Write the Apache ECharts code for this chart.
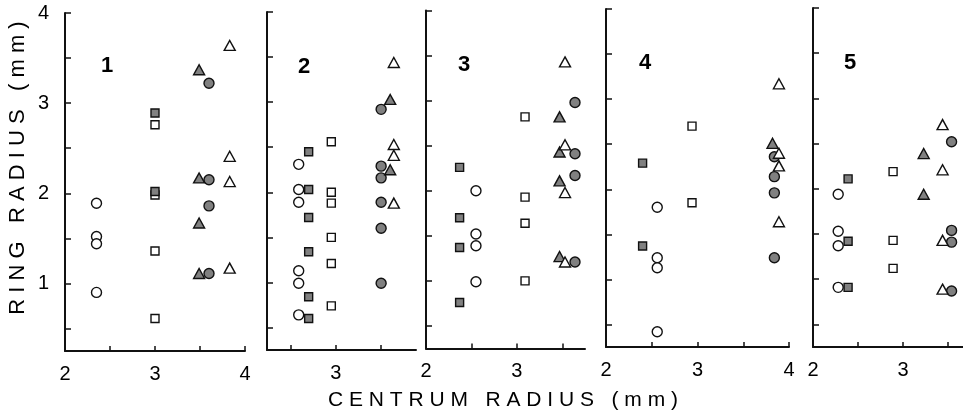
<!DOCTYPE html>
<html>
<head>
<meta charset="utf-8">
<script src="https://cdn.jsdelivr.net/npm/echarts@6/dist/echarts.min.js"></script>
<style>html,body{margin:0;padding:0;background:#fff}#c{width:963px;height:414px}</style>
</head>
<body>
<div id="c"></div>
<script>
// [panel, centrum radius, ring radius]
const openCircle = [
  [1,2.35,1.89],[1,2.35,1.52],[1,2.35,1.44],[1,2.35,0.90],
  [2,2.59,2.31],[2,2.59,2.03],[2,2.59,1.89],[2,2.59,1.13],[2,2.59,0.99],[2,2.59,0.64],
  [3,2.55,2.00],[3,2.55,1.52],[3,2.55,1.39],[3,2.55,0.99],
  [4,2.56,1.80],[4,2.56,1.24],[4,2.56,1.13],[4,2.56,0.42],
  [5,2.28,1.94],[5,2.28,1.53],[5,2.28,1.37],[5,2.28,0.91]
];
const openSquare = [
  [1,3.00,2.76],[1,3.00,1.98],[1,3.00,1.36],[1,3.00,0.61],
  [2,2.95,2.56],[2,2.95,2.00],[2,2.95,1.88],[2,2.95,1.50],[2,2.95,1.21],[2,2.95,0.74],
  [3,3.09,2.82],[3,3.09,1.93],[3,3.09,1.64],[3,3.09,1.00],
  [4,2.94,2.70],[4,2.94,1.85],
  [5,2.89,2.19],[5,2.89,1.43],[5,2.89,1.12]
];
const graySquare = [
  [1,3.00,2.89],[1,3.00,2.02],
  [2,2.70,2.45],[2,2.70,2.03],[2,2.70,1.72],[2,2.70,1.34],[2,2.70,0.84],[2,2.70,0.60],
  [3,2.37,2.26],[3,2.37,1.70],[3,2.37,1.37],[3,2.37,0.76],
  [4,2.40,2.29],[4,2.40,1.37],
  [5,2.39,2.11],[5,2.39,1.42],[5,2.39,0.91]
];
const grayTriangle = [
  [1,3.49,3.37],[1,3.49,2.17],[1,3.49,1.67],[1,3.49,1.11],
  [2,3.60,3.03],[2,3.60,2.25],
  [3,3.47,2.82],[3,3.47,2.43],[3,3.47,2.11],[3,3.47,1.27],
  [4,3.82,2.51],
  [5,3.23,2.39],[5,3.23,1.94]
];
const grayCircle = [
  [1,3.60,3.22],[1,3.60,2.15],[1,3.60,1.86],[1,3.60,1.11],
  [2,3.50,2.92],[2,3.50,2.29],[2,3.50,2.16],[2,3.50,1.89],[2,3.50,1.60],[2,3.50,0.99],
  [3,3.64,2.98],[3,3.64,2.41],[3,3.64,2.17],[3,3.64,1.21],
  [4,3.84,2.36],[4,3.84,2.14],[4,3.84,1.96],[4,3.84,1.24],
  [5,3.54,2.52],[5,3.54,1.54],[5,3.54,1.41],[5,3.54,0.87]
];
const openTriangle = [
  [1,3.83,3.64],[1,3.83,2.41],[1,3.83,2.13],[1,3.83,1.17],
  [2,3.64,3.44],[2,3.64,2.53],[2,3.64,2.41],[2,3.64,1.88],
  [3,3.53,3.43],[3,3.53,2.51],[3,3.53,1.98],[3,3.53,1.21],
  [4,3.89,3.17],[4,3.89,2.40],[4,3.89,2.26],[4,3.89,1.64],
  [5,3.44,2.71],[5,3.44,2.21],[5,3.44,1.43],[5,3.44,0.89]
];
const panelNames = ['1','2','3','4','5'];
const xRanges = [[2,4],[2.24,3.885],[2,3.75],[2,4],[2,3.667]];
const xTicks = [[2.5,3,3.5,4],[2.5,3,3.5],[2.5,3,3.5],[2.5,3,3.5,4],[2.5,3,3.5]];
const xTickLabels = [[2,3,4],[3],[2,3],[2,3,4],[2,3]];
const yTicks = [0.5,1,1.5,2,2.5,3,3.5,4];
const yTickLabels = [1,2,3,4];
const yRange = [0.25,4];

const grids = [
  {left:65, width:180, top:13, height:338},
  {left:267, width:149, top:12, height:338},
  {left:426, width:159, top:10.5, height:338},
  {left:606, width:183, top:9, height:338},
  {left:813, width:150, top:8, height:339}
];
const numPos = [[107,66],[304,67],[464,65],[645,63],[850,63]];

const ink = '#111';
const gray = '#808080';
const font = 'Liberation Sans, Arial, sans-serif';

const xAxes = [], yAxes = [], series = [];
grids.forEach((g,i)=>{
  xAxes.push({
    gridIndex:i, type:'value', min:xRanges[i][0], max:xRanges[i][1],
    axisLine:{show:true, lineStyle:{color:ink, width:2}},
    axisTick:{show:true, inside:true, length:5, lineStyle:{color:ink, width:1.5}, customValues:xTicks[i]},
    axisLabel:{show:true, color:'#000', fontSize:20, fontFamily:font, margin:13, customValues:xTickLabels[i]},
    splitLine:{show:false}
  });
  yAxes.push({
    gridIndex:i, type:'value', min:yRange[0], max:yRange[1],
    axisLine:{show:true, lineStyle:{color:ink, width:2}},
    axisTick:{show:true, inside:true, length:6, lineStyle:{color:ink, width:1.5}, customValues:yTicks},
    axisLabel:{show:i===0, color:'#000', fontSize:20, fontFamily:font, margin:16, customValues:yTickLabels},
    splitLine:{show:false}
  });
});

const styles = [
  {data:openSquare, symbol:'rect', size:[8,8], fill:'#fff'},
  {data:graySquare, symbol:'rect', size:[8,8], fill:gray},
  {data:openCircle, symbol:'circle', size:10, fill:'#fff'},
  {data:grayCircle, symbol:'circle', size:10, fill:gray},
  {data:grayTriangle, symbol:'triangle', size:[11,10], fill:gray},
  {data:openTriangle, symbol:'triangle', size:[11,10], fill:'#fff'}
];
for (let p=0;p<5;p++){
  styles.forEach(s=>{
    series.push({
      type:'scatter', xAxisIndex:p, yAxisIndex:p,
      symbol:s.symbol, symbolSize:s.size,
      itemStyle:{color:s.fill, borderColor:ink, borderWidth:1.4, opacity:1},
      data:s.data.filter(d=>d[0]===p+1).map(d=>[d[1],d[2]]),
      silent:true, animation:false
    });
  });
}

const graphics = panelNames.map((n,i)=>({
  type:'text', x:numPos[i][0], y:numPos[i][1],
  style:{text:n, fill:'#000', font:'bold 22px '+font, textAlign:'center', textVerticalAlign:'middle'}
}));
const spaced = s => s.split('').join(' ');
graphics.push({
  type:'text', x:503, y:400,
  style:{text:spaced('CENTRUM RADIUS (mm)'), fill:'#000', font:'21px '+font, textAlign:'center', textVerticalAlign:'middle'}
});
graphics.push({
  type:'text', x:18, y:168, rotation:Math.PI/2,
  style:{text:spaced('RING RADIUS (mm)'), fill:'#000', font:'22px '+font, textAlign:'center', textVerticalAlign:'middle'}
});

const chart = echarts.init(document.getElementById('c'), null, {renderer:'canvas'});
chart.setOption({
  animation:false,
  backgroundColor:'#fff',
  grid: grids.map(g=>Object.assign({containLabel:false, outerBoundsMode:'none'}, g)),
  xAxis:xAxes, yAxis:yAxes, series:series, graphic:graphics
});
</script>
</body>
</html>
